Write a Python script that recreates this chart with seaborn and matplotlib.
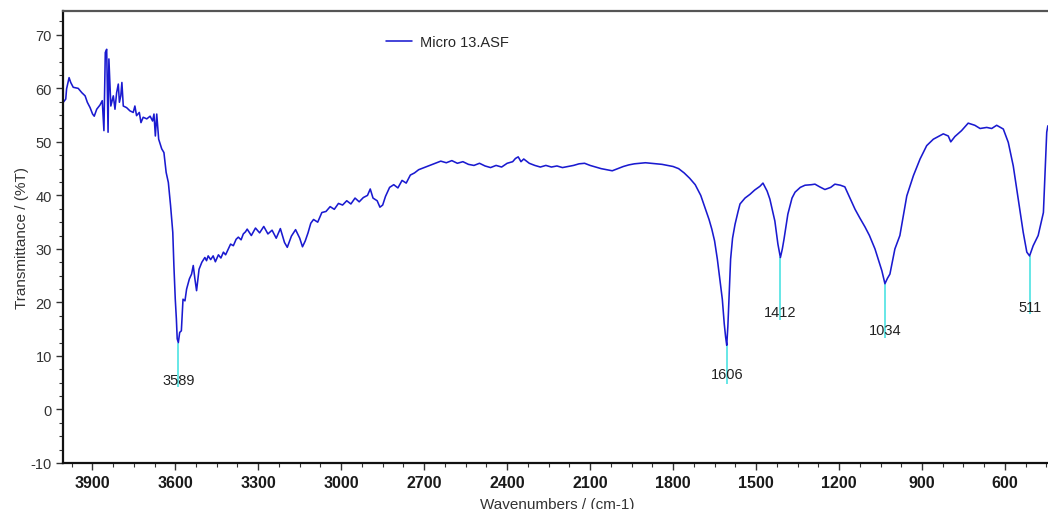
import numpy as np
import pandas as pd
import matplotlib
matplotlib.use("Agg")
import matplotlib.pyplot as plt
from matplotlib.ticker import MultipleLocator, AutoMinorLocator
import seaborn as sns

# spectrum (wavenumber cm-1, %T)
wavenumber = [
    4005, 3996, 3993, 3984, 3978, 3969, 3951, 3938, 3926, 3918, 3908, 3899,
    3893, 3884, 3872, 3864, 3858, 3853, 3848, 3843, 3840, 3833, 3824, 3818,
    3812, 3806, 3802, 3797, 3793, 3788, 3776, 3764, 3752, 3746, 3740, 3730,
    3724, 3716, 3703, 3691, 3682, 3677, 3672, 3667, 3660, 3649, 3641, 3633,
    3625, 3617, 3609, 3605, 3600, 3596, 3593, 3589, 3584, 3578, 3572, 3565,
    3559, 3549, 3541, 3535, 3529, 3523, 3514, 3504, 3493, 3487, 3481, 3472,
    3463, 3455, 3444, 3435, 3426, 3418, 3408, 3400, 3390, 3380, 3372, 3362,
    3354, 3346, 3340, 3325, 3310, 3295, 3280, 3265, 3250,
    3235, 3220, 3205, 3195, 3180, 3165, 3150, 3140, 3130, 3120, 3110, 3100,
    3085, 3070, 3055, 3040, 3025, 3010, 2995, 2980, 2965, 2950, 2935, 2920,
    2905, 2895, 2885, 2870, 2860, 2850, 2840, 2825, 2810, 2795, 2780, 2765,
    2750, 2735, 2720, 2700, 2680, 2660, 2640, 2620, 2600, 2580, 2560, 2540,
    2520, 2500, 2480, 2460, 2440, 2420, 2400, 2380, 2370, 2360, 2350, 2340,
    2320, 2300, 2280, 2260, 2240, 2220, 2200, 2180, 2160, 2140, 2120, 2100,
    2080, 2060, 2040, 2020, 2000, 1980, 1960, 1940, 1920, 1900, 1880, 1860,
    1840, 1820, 1800, 1780, 1760, 1740, 1720, 1700, 1690, 1680, 1670, 1660,
    1650, 1640, 1630, 1622, 1615, 1610, 1606, 1602, 1598, 1592, 1585, 1576,
    1565, 1558, 1540, 1522, 1505, 1486, 1475, 1468, 1460, 1450, 1440, 1432,
    1421, 1412, 1405, 1399, 1385, 1370, 1359, 1340, 1323, 1300, 1287, 1270,
    1251, 1230, 1215, 1195, 1179, 1165, 1142, 1125, 1106, 1090, 1070, 1045,
    1034, 1025, 1016, 998, 980, 955, 931, 907, 883, 859, 823, 805,
    796, 781, 757, 733, 709, 690, 666, 648, 630, 606, 588, 570,
    552, 534, 521, 511, 498, 480, 461, 449, 445,
]
transmittance = [
    57.4, 58.0, 59.9, 62.0, 61.1, 60.2, 60.0, 59.2, 58.6, 57.4, 56.4, 55.2,
    54.8, 56.1, 56.9, 57.7, 52.1, 66.7, 67.3, 51.8, 65.5, 56.7, 58.6, 56.1,
    59.2, 60.8, 57.4, 58.6, 61.1, 56.7, 56.4, 55.8, 55.5, 56.7, 54.9, 55.5,
    53.6, 54.6, 54.3, 54.8, 53.9, 55.2, 51.1, 55.2, 50.5, 48.7, 48.0, 44.3,
    42.4, 38.1, 33.1, 26.9, 20.6, 16.9, 13.2, 12.5, 14.4, 14.7, 20.6, 20.3,
    22.5, 24.4, 25.3, 26.9, 24.4, 22.2, 26.2, 27.5, 28.4, 27.8, 28.7, 28.0,
    28.7, 27.6, 28.9, 28.3, 29.4, 28.9, 30.0, 30.9, 30.6, 31.8, 32.2, 31.7,
    32.8, 33.2, 33.7, 32.5, 33.9, 33.0, 34.2, 32.8, 33.5,
    32.0, 33.8, 31.2, 30.3, 32.4, 33.6, 32.0, 30.4, 31.5, 33.0, 34.8, 35.5,
    35.0, 36.8, 37.0, 37.9, 37.4, 38.5, 38.2, 39.0, 38.4, 39.5, 38.8, 39.6,
    40.0, 41.2, 39.5, 39.0, 37.8, 38.2, 39.8, 41.5, 42.0, 41.4, 42.8, 42.3,
    43.8, 44.2, 44.8, 45.2, 45.6, 46.0, 46.4, 46.1, 46.5, 46.0, 46.3, 45.8,
    45.6, 46.0, 45.5, 45.2, 45.6, 45.3, 46.0, 46.3, 46.9, 47.2, 46.3, 46.8,
    46.0, 45.6, 45.3, 45.6, 45.3, 45.5, 45.2, 45.4, 45.6, 45.9, 46.0, 45.6,
    45.3, 45.0, 44.8, 44.6, 45.0, 45.4, 45.7, 45.9, 46.0, 46.1, 46.0, 45.9,
    45.8, 45.6, 45.4, 45.0, 44.2, 43.2, 42.0, 40.0, 38.5, 37.0, 35.5, 33.7,
    31.5, 28.1, 24.0, 20.6, 16.0, 13.5, 12.0, 15.5, 20.6, 28.1, 32.0, 34.6,
    37.0, 38.4, 39.5, 40.2, 41.0, 41.7, 42.3, 41.6, 40.8, 39.3, 37.0, 35.2,
    30.9, 28.4, 30.0, 31.8, 36.5, 39.5, 40.6, 41.5, 41.9, 42.0, 42.1, 41.6,
    41.1, 41.5, 42.1, 41.9, 41.6, 40.0, 37.4, 35.8, 34.1, 32.5, 30.0, 25.9,
    23.5, 24.5, 25.3, 30.0, 32.5, 39.9, 43.7, 46.8, 49.3, 50.5, 51.5, 51.1,
    50.0, 51.0, 52.1, 53.5, 53.1, 52.5, 52.7, 52.5, 53.1, 52.4, 49.9, 45.5,
    39.3, 33.1, 29.4, 28.7, 30.6, 32.5, 36.8, 51.8, 53.0,
]

# peak markers: position, %T at the peak, label centre, bottom of the cyan line
peak_wn = [3589, 1606, 1412, 1034, 511]
peak_top = [12.5, 12.0, 28.4, 23.5, 28.7]
peak_label_y = [5.5, 6.6, 18.2, 14.8, 19.2]
peak_line_bottom = [4.2, 4.8, 16.7, 13.4, 17.9]

df = pd.DataFrame({"wn": wavenumber, "T": transmittance})

sns.set_theme(style="white")
plt.rcParams["font.family"] = ["Liberation Sans", "DejaVu Sans"]
plt.rcParams["axes.unicode_minus"] = False

fig = plt.figure(figsize=(10.48, 5.10), dpi=100)
ax = fig.add_axes([0.0601, 0.0902, 0.9437, 0.8857])

sns.lineplot(data=df, x="wn", y="T", sort=False, estimator=None,
             color="#1a1ad0", lw=1.15, label="Micro 13.ASF", ax=ax)

for wn, top, ly, bot in zip(peak_wn, peak_top, peak_label_y, peak_line_bottom):
    ax.vlines(wn, bot, top, color="#4de3e3", lw=1.2, zorder=1)
    ax.text(wn, ly, str(wn), ha="center", va="center", fontsize=10.5,
            color="#222222", zorder=3)

ax.set_xlim(4006, 430)
ax.set_ylim(-10, 74.4)
ax.xaxis.set_major_locator(MultipleLocator(300))
ax.xaxis.set_minor_locator(AutoMinorLocator(4))
ax.yaxis.set_major_locator(MultipleLocator(10))
ax.yaxis.set_minor_locator(AutoMinorLocator(4))

ax.tick_params(axis="both", which="both", direction="out", bottom=True, left=True,
               top=False, right=False, colors="#333333")
ax.tick_params(axis="both", which="major", length=5, width=1)
ax.tick_params(axis="both", which="minor", length=3, width=0.8)
ax.tick_params(axis="x", labelsize=11.5, pad=4)
ax.tick_params(axis="y", labelsize=10.5, pad=3)
for lab in ax.get_xticklabels():
    lab.set_fontweight("bold")
    lab.set_color("#1a1a1a")

for side in ["left", "bottom", "top"]:
    ax.spines[side].set_color("#111111")
    ax.spines[side].set_linewidth(1.6)
ax.spines["top"].set_color("#555555")

ax.set_xlabel("Wavenumbers / (cm-1)", fontsize=11, color="#333333", labelpad=4.5)
ax.set_ylabel("Transmittance / (%T)", fontsize=11, color="#333333", labelpad=1)

ax.legend(loc="upper left", bbox_to_anchor=(0.3135, 0.976), frameon=False,
          fontsize=10.5, handlelength=1.8, handletextpad=0.55)

fig.savefig("out.png", dpi=100)
